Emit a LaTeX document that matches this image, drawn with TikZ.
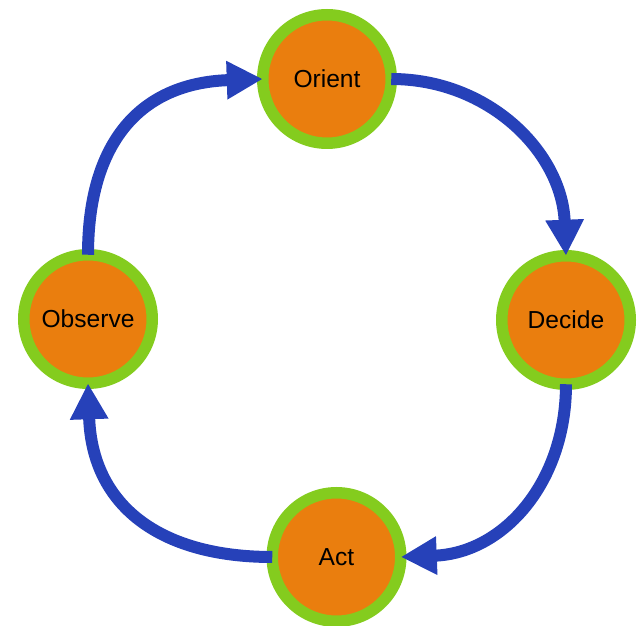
\documentclass[tikz,border=0pt]{standalone}
\usepackage{fontspec}
\setmainfont{Liberation Sans}
\usetikzlibrary{arrows.meta,calc}

\definecolor{phaseorange}{RGB}{234,126,14}
\definecolor{phasegreen}{RGB}{132,204,30}
\definecolor{loopblue}{RGB}{38,65,185}

\tikzset{
  phase/.style={circle, fill=phaseorange, draw=phasegreen, line width=11.5pt,
    minimum size=128.5pt, inner sep=0pt, outer sep=0pt,
    font=\fontsize{24.6pt}{28pt}\selectfont, text=black},
  flow/.style={draw=loopblue, line width=12pt,
    -{Triangle[length=36pt,width=36pt]}}
}

\begin{document}
\begin{tikzpicture}[x=1pt,y=1pt]
  \useasboundingbox (0,0) rectangle (638,625);

  % the four phases of the loop
  \node[phase] (ori) at (327,546) {Orient};
  \node[phase] (dec) at (566,305) {Decide};
  \node[phase] (act) at (336.5,68) {Act};
  \node[phase] (obs) at (88,306) {Observe};

  % clockwise connectors between the phases
  \draw[flow] (obs.north) .. controls ($(obs.north)+(0,113)$) and ($(ori.west)+(-122,-4)$) .. (ori.west);
  \draw[flow] (ori.east) .. controls ($(ori.east)+(98,0)$) and ($(dec.north)+(-4,103)$) .. (dec.north);
  \draw[flow] (dec.south) .. controls ($(dec.south)+(0,-98)$) and ($(act.east)+(103,4)$) .. (act.east);
  \draw[flow] (act.west) .. controls ($(act.west)+(-113,0)$) and ($(obs.south)+(4,-122)$) .. (obs.south);
\end{tikzpicture}
\end{document}
